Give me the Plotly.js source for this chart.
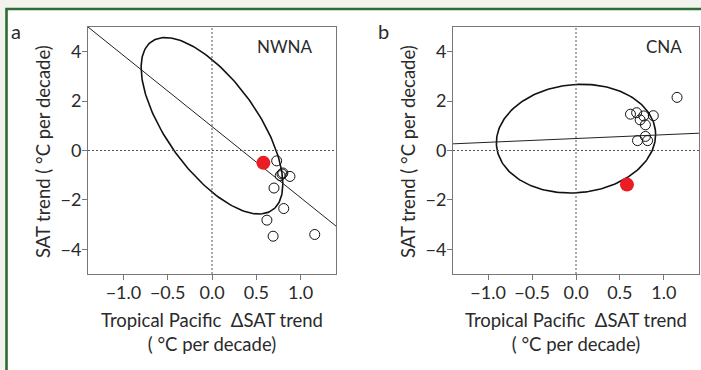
<!DOCTYPE html>
<html>
<head>
<meta charset="utf-8">
<script src="https://cdn.plot.ly/plotly-3.0.1.min.js"></script>
<style>html,body{margin:0;padding:0;background:#f3f3ee;}#chart{width:701px;height:370px;}</style>
</head>
<body>
<div id="chart"></div>
<script>
// ---- Data ----
// Panel a (NWNA)
var nwnaModelX = [0.73, 0.79, 0.80, 0.77, 0.88, 0.70, 0.81, 0.62, 0.69, 1.16];
var nwnaModelY = [-0.42, -0.95, -0.91, -1.02, -1.05, -1.52, -2.35, -2.82, -3.47, -3.40];
var nwnaObsX = [0.58];
var nwnaObsY = [-0.50];
var nwnaFitX = [-1.4, 1.4];
var nwnaFitY = [5.0, -3.06];
// ellipse: [centerX, centerY, x half-extent, y half-extent, correlation]
var nwnaEllipse = [0.0, 1.0, 0.80, 3.57, -0.66];

// Panel b (CNA)
var cnaModelX = [1.15, 0.62, 0.69, 0.77, 0.88, 0.73, 0.79, 0.79, 0.815, 0.70];
var cnaModelY = [2.15, 1.47, 1.53, 1.40, 1.41, 1.24, 1.04, 0.57, 0.40, 0.40];
var cnaObsX = [0.58];
var cnaObsY = [-1.38];
var cnaFitX = [-1.4, 1.4];
var cnaFitY = [0.27, 0.70];
var cnaEllipse = [0.0, 0.48, 0.906, 2.2, 0.075];

var xTickVals = [-1.0, -0.5, 0.0, 0.5, 1.0];
var xTickText = ['\u22121.0', '\u22120.5', '0.0', '0.5', '1.0'];
var yTickVals = [-4, -2, 0, 2, 4];
var yTickText = ['\u22124', '\u22122', '0', '2', '4'];

var panelLabels = ['a', 'b'];
var regionNames = ['NWNA', 'CNA'];
var xTitle = 'Tropical Pacific  \u0394SAT trend<br>( \u00b0C per decade)';
var yTitle = 'SAT trend ( \u00b0C per decade)';

// ---- build ----
function ellipsePts(p) {
  var xs = [], ys = [];
  var s = Math.sqrt(1 - p[4] * p[4]);
  for (var i = 0; i <= 200; i++) {
    var t = 2 * Math.PI * i / 200;
    xs.push(p[0] + p[2] * Math.cos(t));
    ys.push(p[1] + p[3] * (p[4] * Math.cos(t) - s * Math.sin(t)));
  }
  return {x: xs, y: ys};
}

var FONT = 'Lato, "Open Sans", sans-serif';
var TXT = '#2a2a2a';
var traces = [];
function addPanel(ax, ex, fx, fy, mx, my, ox, oy) {
  var e = ellipsePts(ex);
  var xa = ax === 1 ? 'x' : 'x2', ya = ax === 1 ? 'y' : 'y2';
  traces.push({x: e.x, y: e.y, xaxis: xa, yaxis: ya, mode: 'lines', line: {color: '#111', width: 1.6}, hoverinfo: 'skip'});
  traces.push({x: fx, y: fy, xaxis: xa, yaxis: ya, mode: 'lines', line: {color: '#222', width: 1}, hoverinfo: 'skip'});
  traces.push({x: mx, y: my, xaxis: xa, yaxis: ya, mode: 'markers', marker: {symbol: 'circle-open', size: 10, color: '#111', line: {width: 1}}});
  traces.push({x: ox, y: oy, xaxis: xa, yaxis: ya, mode: 'markers', marker: {symbol: 'circle', size: 14, color: '#ec1c24'}});
}
addPanel(1, nwnaEllipse, nwnaFitX, nwnaFitY, nwnaModelX, nwnaModelY, nwnaObsX, nwnaObsY);
addPanel(2, cnaEllipse, cnaFitX, cnaFitY, cnaModelX, cnaModelY, cnaObsX, cnaObsY);

var W = 701, H = 370;
function axX(l, r) {
  return {domain: [l / W, r / W], range: [-1.4, 1.4], tickvals: xTickVals, ticktext: xTickText,
    ticks: 'outside', ticklen: 5, tickcolor: '#777', tickwidth: 1, showgrid: false, zeroline: false,
    showline: true, linecolor: '#777', linewidth: 1, mirror: true, fixedrange: true,
    ticklabelstandoff: -3,
    tickfont: {family: FONT, size: 18, color: TXT}};
}
function axY(anchor) {
  return {domain: [1 - 274 / H, 1 - 27 / H], range: [-5, 5], tickvals: yTickVals, ticktext: yTickText,
    ticks: 'outside', ticklen: 5, tickcolor: '#777', tickwidth: 1, showgrid: false, zeroline: false,
    showline: true, linecolor: '#777', linewidth: 1, mirror: true, anchor: anchor, fixedrange: true,
    ticklabelstandoff: -3,
    tickfont: {family: FONT, size: 18, color: TXT}};
}

var shapes = [
  {type: 'rect', xref: 'paper', yref: 'paper', x0: 6.5 / W, x1: 1.05, y0: -0.05, y1: 1 - 9 / H,
   fillcolor: '#ffffff', line: {color: '#2e6b35', width: 2.6}, layer: 'below'}
];
[['x', 'y'], ['x2', 'y2']].forEach(function (p) {
  shapes.push({type: 'line', xref: p[0], yref: p[1] + ' domain', x0: 0, x1: 0, y0: 0, y1: 1, line: {color: '#555', width: 1, dash: '2px,2px'}});
  shapes.push({type: 'line', xref: p[0] + ' domain', yref: p[1], x0: 0, x1: 1, y0: 0, y1: 0, line: {color: '#555', width: 1, dash: '2px,2px'}});
});

var ann = [];
function addAnn(text, x, y, size, extra) {
  var a = {text: text, xref: 'paper', yref: 'paper', x: x / W, y: 1 - y / H, showarrow: false,
    xanchor: 'center', yanchor: 'middle', font: {family: FONT, size: size, color: TXT}};
  for (var k in extra) a[k] = extra[k];
  ann.push(a);
}
addAnn(panelLabels[0], 16, 31, 20, {});
addAnn(panelLabels[1], 383, 31, 20, {});
addAnn(regionNames[0], 285, 46, 17, {});
addAnn(regionNames[1], 664, 46, 17, {});
addAnn(xTitle, 212, 332, 18.5, {});
addAnn(xTitle, 576, 332, 18.5, {});
addAnn(yTitle, 43, 152, 18.5, {textangle: -90});
addAnn(yTitle, 408, 152, 18.5, {textangle: -90});

var layout = {
  width: W, height: H, margin: {l: 0, r: 0, t: 0, b: 0},
  paper_bgcolor: '#f3f3ee', plot_bgcolor: 'rgba(0,0,0,0)', showlegend: false,
  xaxis: axX(88, 336), yaxis: axY('x'),
  xaxis2: axX(453, 699), yaxis2: axY('x2'),
  shapes: shapes, annotations: ann
};
layout.xaxis.anchor = 'y';
layout.xaxis2.anchor = 'y2';
Plotly.newPlot('chart', traces, layout, {displayModeBar: false, staticPlot: true});
</script>
</body>
</html>
